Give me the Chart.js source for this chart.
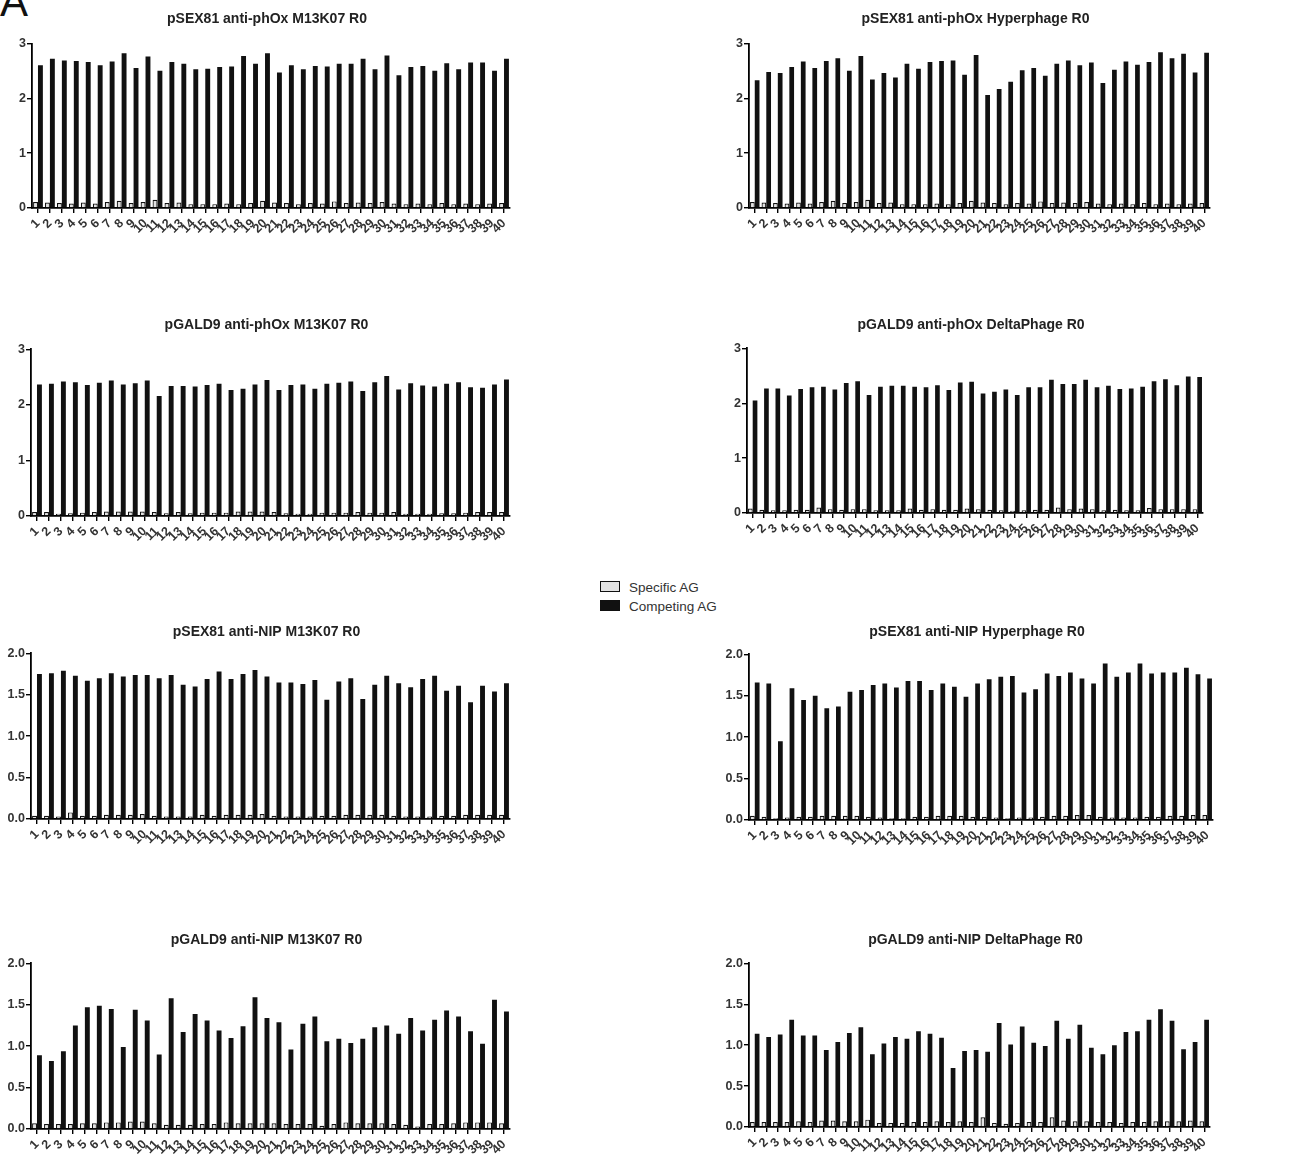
<!DOCTYPE html>
<html>
<head>
<meta charset="utf-8">
<script src="https://cdn.jsdelivr.net/npm/chart.js@4.4.1/dist/chart.umd.min.js"></script>
<style>
  body { margin: 0; background: #fff; width: 1304px; height: 1159px; position: relative; overflow: hidden; font-family: "Liberation Sans", Arial, sans-serif; }
  .panel { position: absolute; }
  .letter { position: absolute; left: 0px; top: -22px; font-size: 42px; color: #111; }
  .legend { position: absolute; left: 600px; top: 578px; font-size: 13.5px; color: #333; line-height: 19px; }
  .legend span.sw { display: inline-block; width: 18px; height: 9px; border: 1px solid #111; margin-right: 9px; vertical-align: 0px; }
</style>
</head>
<body>
<div class="letter">A</div>
<div class="legend">
  <div><span class="sw" style="background:#e4e4e4"></span>Specific AG</div>
  <div><span class="sw" style="background:#111"></span>Competing AG</div>
</div>

<script>
const clones = [
  "1", "2", "3", "4", "5", "6", "7", "8", "9", "10",
  "11", "12", "13", "14", "15", "16", "17", "18", "19", "20",
  "21", "22", "23", "24", "25", "26", "27", "28", "29", "30",
  "31", "32", "33", "34", "35", "36", "37", "38", "39", "40",
];

// pSEX81 anti-phOx M13K07 R0
const sexPhoxM13Specific = [0.11, 0.10, 0.09, 0.08, 0.10, 0.08, 0.11, 0.13, 0.09, 0.11, 0.15, 0.09, 0.10, 0.07, 0.07, 0.07, 0.08, 0.07, 0.09, 0.13, 0.10, 0.09, 0.07, 0.09, 0.08, 0.12, 0.09, 0.10, 0.09, 0.11, 0.08, 0.07, 0.08, 0.07, 0.09, 0.07, 0.08, 0.07, 0.08, 0.09];
const sexPhoxM13Competing = [2.60, 2.72, 2.69, 2.68, 2.66, 2.60, 2.67, 2.82, 2.55, 2.76, 2.50, 2.66, 2.63, 2.53, 2.54, 2.57, 2.58, 2.77, 2.63, 2.82, 2.47, 2.60, 2.53, 2.59, 2.58, 2.63, 2.63, 2.72, 2.53, 2.78, 2.42, 2.57, 2.59, 2.50, 2.64, 2.53, 2.65, 2.65, 2.50, 2.72];

// pSEX81 anti-phOx Hyperphage R0
const sexPhoxHyperSpecific = [0.11, 0.10, 0.09, 0.08, 0.10, 0.08, 0.11, 0.13, 0.09, 0.11, 0.15, 0.09, 0.10, 0.07, 0.07, 0.07, 0.08, 0.07, 0.09, 0.13, 0.10, 0.09, 0.07, 0.09, 0.08, 0.12, 0.09, 0.10, 0.09, 0.11, 0.08, 0.07, 0.08, 0.07, 0.09, 0.07, 0.08, 0.07, 0.08, 0.09];
const sexPhoxHyperCompeting = [2.33, 2.48, 2.46, 2.57, 2.67, 2.55, 2.68, 2.73, 2.50, 2.77, 2.34, 2.46, 2.38, 2.63, 2.54, 2.66, 2.68, 2.69, 2.43, 2.79, 2.06, 2.17, 2.30, 2.51, 2.55, 2.41, 2.63, 2.69, 2.60, 2.65, 2.28, 2.52, 2.67, 2.61, 2.66, 2.84, 2.73, 2.81, 2.47, 2.83];

// pGALD9 anti-phOx M13K07 R0
const galdPhoxM13Specific = [0.07, 0.07, 0.04, 0.05, 0.06, 0.07, 0.08, 0.08, 0.08, 0.08, 0.07, 0.05, 0.07, 0.05, 0.06, 0.06, 0.06, 0.08, 0.08, 0.08, 0.07, 0.05, 0.04, 0.04, 0.06, 0.06, 0.06, 0.07, 0.06, 0.06, 0.07, 0.04, 0.04, 0.04, 0.05, 0.05, 0.06, 0.07, 0.07, 0.07];
const galdPhoxM13Competing = [2.37, 2.38, 2.42, 2.41, 2.36, 2.40, 2.44, 2.37, 2.39, 2.44, 2.16, 2.34, 2.34, 2.33, 2.36, 2.38, 2.27, 2.29, 2.37, 2.45, 2.27, 2.36, 2.37, 2.29, 2.38, 2.40, 2.42, 2.25, 2.41, 2.52, 2.28, 2.39, 2.35, 2.33, 2.38, 2.41, 2.32, 2.31, 2.37, 2.46];

// pGALD9 anti-phOx DeltaPhage R0
const galdPhoxDeltaSpecific = [0.08, 0.06, 0.05, 0.05, 0.06, 0.06, 0.10, 0.07, 0.06, 0.07, 0.07, 0.05, 0.05, 0.05, 0.08, 0.06, 0.07, 0.06, 0.06, 0.08, 0.07, 0.06, 0.05, 0.04, 0.05, 0.06, 0.06, 0.10, 0.07, 0.08, 0.07, 0.05, 0.06, 0.05, 0.05, 0.09, 0.07, 0.07, 0.07, 0.07];
const galdPhoxDeltaCompeting = [2.05, 2.27, 2.27, 2.14, 2.26, 2.29, 2.30, 2.25, 2.37, 2.40, 2.15, 2.30, 2.32, 2.32, 2.30, 2.29, 2.33, 2.24, 2.38, 2.39, 2.18, 2.21, 2.25, 2.15, 2.29, 2.29, 2.43, 2.35, 2.35, 2.43, 2.29, 2.32, 2.26, 2.27, 2.30, 2.40, 2.44, 2.33, 2.49, 2.48];

// pSEX81 anti-NIP M13K07 R0
const sexNipM13Specific = [0.04, 0.04, 0.03, 0.08, 0.04, 0.04, 0.05, 0.05, 0.05, 0.06, 0.04, 0.03, 0.03, 0.03, 0.05, 0.04, 0.05, 0.05, 0.05, 0.06, 0.04, 0.03, 0.03, 0.03, 0.04, 0.04, 0.05, 0.05, 0.05, 0.05, 0.04, 0.03, 0.03, 0.03, 0.04, 0.04, 0.05, 0.05, 0.05, 0.05];
const sexNipM13Competing = [1.75, 1.76, 1.79, 1.73, 1.67, 1.70, 1.76, 1.72, 1.74, 1.74, 1.70, 1.74, 1.62, 1.60, 1.69, 1.78, 1.69, 1.75, 1.80, 1.72, 1.65, 1.65, 1.63, 1.68, 1.44, 1.66, 1.70, 1.45, 1.62, 1.73, 1.64, 1.59, 1.69, 1.73, 1.55, 1.61, 1.41, 1.61, 1.54, 1.64];

// pSEX81 anti-NIP Hyperphage R0
const sexNipHyperSpecific = [0.05, 0.04, 0.02, 0.03, 0.04, 0.04, 0.05, 0.05, 0.05, 0.05, 0.04, 0.03, 0.02, 0.02, 0.04, 0.04, 0.05, 0.05, 0.05, 0.04, 0.04, 0.03, 0.02, 0.03, 0.03, 0.04, 0.05, 0.05, 0.06, 0.06, 0.04, 0.03, 0.03, 0.03, 0.04, 0.04, 0.05, 0.05, 0.06, 0.06];
const sexNipHyperCompeting = [1.66, 1.65, 0.95, 1.59, 1.45, 1.50, 1.35, 1.37, 1.55, 1.57, 1.63, 1.65, 1.60, 1.68, 1.68, 1.57, 1.65, 1.61, 1.49, 1.65, 1.70, 1.73, 1.74, 1.54, 1.58, 1.77, 1.74, 1.78, 1.71, 1.65, 1.89, 1.73, 1.78, 1.89, 1.77, 1.78, 1.78, 1.84, 1.76, 1.71];

// pGALD9 anti-NIP M13K07 R0
const galdNipM13Specific = [0.07, 0.06, 0.06, 0.06, 0.07, 0.07, 0.08, 0.08, 0.09, 0.09, 0.07, 0.05, 0.05, 0.05, 0.06, 0.06, 0.08, 0.07, 0.07, 0.07, 0.07, 0.06, 0.06, 0.06, 0.04, 0.06, 0.08, 0.07, 0.07, 0.07, 0.06, 0.05, 0.03, 0.06, 0.06, 0.07, 0.08, 0.08, 0.08, 0.07];
const galdNipM13Competing = [0.89, 0.82, 0.94, 1.25, 1.47, 1.49, 1.45, 0.99, 1.44, 1.31, 0.90, 1.58, 1.17, 1.39, 1.31, 1.19, 1.10, 1.24, 1.59, 1.34, 1.29, 0.96, 1.27, 1.36, 1.06, 1.09, 1.04, 1.09, 1.23, 1.25, 1.15, 1.34, 1.19, 1.32, 1.43, 1.36, 1.18, 1.03, 1.56, 1.42];

// pGALD9 anti-NIP DeltaPhage R0
const galdNipDeltaSpecific = [0.06, 0.06, 0.06, 0.06, 0.07, 0.06, 0.08, 0.08, 0.07, 0.07, 0.09, 0.05, 0.05, 0.05, 0.06, 0.06, 0.07, 0.06, 0.07, 0.06, 0.12, 0.05, 0.04, 0.05, 0.06, 0.06, 0.12, 0.08, 0.07, 0.07, 0.06, 0.06, 0.05, 0.06, 0.06, 0.07, 0.07, 0.07, 0.08, 0.07];
const galdNipDeltaCompeting = [1.14, 1.10, 1.13, 1.31, 1.12, 1.12, 0.94, 1.04, 1.15, 1.22, 0.89, 1.02, 1.10, 1.08, 1.17, 1.14, 1.09, 0.72, 0.93, 0.94, 0.92, 1.27, 1.01, 1.23, 1.03, 0.99, 1.30, 1.08, 1.25, 0.97, 0.89, 1.00, 1.16, 1.17, 1.31, 1.44, 1.30, 0.95, 1.04, 1.31];

// axis box sizes
const YW = 32;
const XH = 34;
const FONT = "'Liberation Sans', Arial, sans-serif";

// L/R/T/B = where the axes sit on the page, ty = title centre
const panels = [
  { title: "pSEX81 anti-phOx M13K07 R0", spec: sexPhoxM13Specific, comp: sexPhoxM13Competing, max: 3, step: 1, L: 32, R: 510, T: 43, B: 208, ty: 19 },
  { title: "pSEX81 anti-phOx Hyperphage R0", spec: sexPhoxHyperSpecific, comp: sexPhoxHyperCompeting, max: 3, step: 1, L: 749, R: 1210, T: 43, B: 208, ty: 19 },
  { title: "pGALD9 anti-phOx M13K07 R0", spec: galdPhoxM13Specific, comp: galdPhoxM13Competing, max: 3, step: 1, L: 31, R: 510, T: 349, B: 516, ty: 325 },
  { title: "pGALD9 anti-phOx DeltaPhage R0", spec: galdPhoxDeltaSpecific, comp: galdPhoxDeltaCompeting, max: 3, step: 1, L: 747, R: 1203, T: 348, B: 513, ty: 325 },
  { title: "pSEX81 anti-NIP M13K07 R0", spec: sexNipM13Specific, comp: sexNipM13Competing, max: 2, step: 0.5, L: 31, R: 510, T: 653, B: 819, ty: 632 },
  { title: "pSEX81 anti-NIP Hyperphage R0", spec: sexNipHyperSpecific, comp: sexNipHyperCompeting, max: 2, step: 0.5, L: 749, R: 1213, T: 654, B: 820, ty: 632 },
  { title: "pGALD9 anti-NIP M13K07 R0", spec: galdNipM13Specific, comp: galdNipM13Competing, max: 2, step: 0.5, L: 31, R: 510, T: 963, B: 1129, ty: 940 },
  { title: "pGALD9 anti-NIP DeltaPhage R0", spec: galdNipDeltaSpecific, comp: galdNipDeltaCompeting, max: 2, step: 0.5, L: 749, R: 1210, T: 963, B: 1127, ty: 940 },
];

const axisGrid = { drawOnChartArea: false, color: "#000", lineWidth: 1.4, tickLength: 5 };
const axisBorder = { color: "#000", width: 1.8 };

panels.forEach((p) => {
  const top = p.ty - 8.4;
  const left = p.L - YW;
  const w = Math.round((p.R - p.L) + YW + (YW - 8));
  const h = Math.round(p.B + XH - top);

  const box = document.createElement("div");
  box.className = "panel";
  box.style.left = left + "px";
  box.style.top = top + "px";
  const canvas = document.createElement("canvas");
  canvas.width = w;
  canvas.height = h;
  canvas.style.width = w + "px";
  canvas.style.height = h + "px";
  box.appendChild(canvas);
  document.body.appendChild(box);

  new Chart(canvas, {
    type: "bar",
    data: {
      labels: clones,
      datasets: [
        {
          label: "Specific AG",
          data: p.spec,
          backgroundColor: "#e2e2e2",
          borderColor: "#111",
          borderWidth: 1.2,
        },
        {
          label: "Competing AG",
          data: p.comp,
          backgroundColor: "#111",
          borderColor: "#111",
          borderWidth: 0,
        },
      ],
    },
    options: {
      responsive: false,
      animation: false,
      devicePixelRatio: 1,
      categoryPercentage: 0.82,
      barPercentage: 1.0,
      layout: { padding: 0 },
      plugins: {
        legend: { display: false },
        tooltip: { enabled: false },
        title: {
          display: true,
          text: p.title,
          color: "#222",
          font: { family: FONT, size: 14, weight: "bold", lineHeight: 1.2 },
          padding: { top: 0, bottom: p.T - top - 16.8 },
        },
      },
      scales: {
        x: {
          grid: Object.assign({ offset: false }, axisGrid),
          border: axisBorder,
          ticks: {
            autoSkip: false,
            minRotation: 45,
            maxRotation: 45,
            padding: 3,
            color: "#333",
            font: { family: FONT, size: 12.5, weight: "bold" },
          },
          afterFit: (s) => { s.height = XH; },
        },
        y: {
          min: 0,
          max: p.max,
          grid: axisGrid,
          border: axisBorder,
          ticks: {
            stepSize: p.step,
            padding: 1,
            color: "#333",
            font: { family: FONT, size: 12.5, weight: "bold" },
            callback: (v) => (p.step < 1 ? v.toFixed(1) : v),
          },
          afterFit: (s) => { s.width = YW; },
        },
        // empty axis on the right so the title sits over the plot
        yr: {
          position: "right",
          grid: { display: false },
          border: { display: false },
          ticks: { display: false },
          afterFit: (s) => { s.width = YW - 8; },
        },
      },
    },
  });
});
</script>
</body>
</html>
